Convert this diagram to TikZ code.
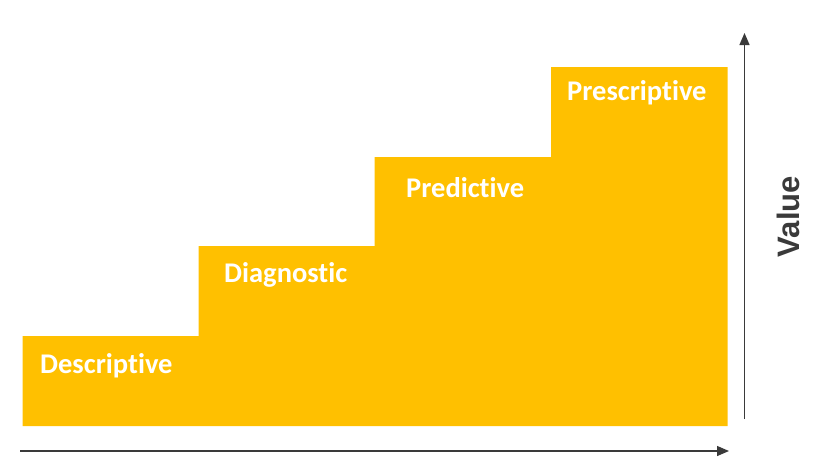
\documentclass[tikz,border=0pt]{standalone}
\usepackage{fontspec}
\setmainfont[Ligatures=NoCommon]{Carlito}
\newfontfamily\valfont{Liberation Sans}
\usetikzlibrary{arrows.meta}
\definecolor{stairs}{HTML}{FFC000}
\definecolor{axisgray}{HTML}{3A3A3A}
\begin{document}
\begin{tikzpicture}[x=1pt,y=-1pt,
  stepfill/.style={fill=stairs,draw=none},
  steplabel/.style={anchor=base west,inner sep=0pt,text=white,font=\fontsize{28.5}{31}\selectfont\bfseries},
  axisline/.style={draw=axisgray,line width=1.3pt,-{Triangle[length=12pt,width=10pt]}}]
\useasboundingbox (0,0) rectangle (830,464);
\fill[stepfill] (22.7,426) -- (22.7,336) -- (198.5,336) -- (198.5,246) -- (374.5,246) -- (374.5,157) -- (551,157) -- (551,67) -- (727.5,67) -- (727.5,426) -- cycle;
\node[steplabel] (desc) at (40,373) {Descriptive};
\node[steplabel] (diag) at (224,282) {Diagnostic};
\node[steplabel] (pred) at (406,197) {Predictive};
\node[steplabel] (pres) at (567,100) {Prescriptive};
\coordinate (xs) at (20,451);
\coordinate (xe) at (729,451);
\coordinate (ys) at (744.5,419);
\coordinate (ye) at (744.5,33);
\draw[axisline] (xs) -- (xe);
\draw[axisline] (ys) -- (ye);
\node[rotate=90,anchor=base,inner sep=0pt,text=axisgray,font=\valfont\fontsize{31}{34}\selectfont\bfseries] (value) at (799,216.5) {Value};
\end{tikzpicture}
\end{document}
